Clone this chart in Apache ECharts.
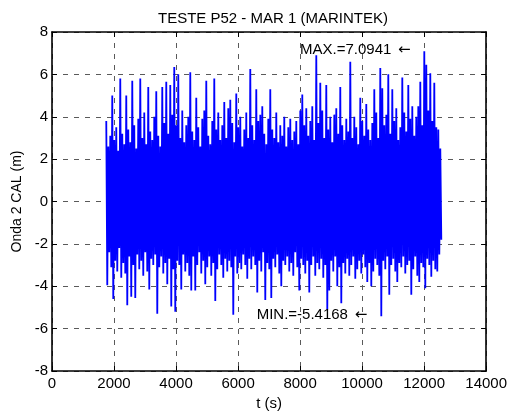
<!DOCTYPE html>
<html>
<head>
<meta charset="utf-8">
<script src="https://cdn.jsdelivr.net/npm/echarts@6/dist/echarts.min.js"></script>
<style>
  html, body { margin: 0; padding: 0; background: #ffffff; }
  #chart { width: 510px; height: 416px; }
</style>
</head>
<body>
<div id="chart"></div>
<script>
// Wave elevation record, probe "Onda 2 CAL", sea state 1 (MARINTEK basin test)
const T_START = 1750;   // time of the first crest (s)
const T_STEP = 64.5;    // spacing between successive crests (s)

// Crest elevations (m), one per wave
const crests = [
  3.8, 2.6, 3.1, 5.0, 2.9, 3.5, 2.4, 5.8, 3.2, 2.7,
  5.0, 3.4, 2.8, 5.7, 3.6, 2.5, 3.9, 5.8, 3.0, 4.2,
  2.7, 5.4, 3.3, 2.9, 4.0, 5.2, 3.1, 2.6, 5.4, 3.7,
  5.65, 3.2, 5.5, 4.1, 6.35, 3.6, 6.0, 3.0, 4.3, 2.8,
  3.6, 4.0, 6.1, 3.3, 2.9, 4.9, 3.5, 2.6, 3.9, 4.3,
  5.7, 3.1, 2.7, 3.8, 5.8, 3.4, 4.2, 2.9, 3.6, 4.7,
  3.0, 4.4, 4.8, 3.7, 2.8, 5.1, 3.5, 4.0, 2.6, 3.4,
  4.2, 3.0, 6.25, 3.6, 2.9, 5.3, 3.8, 4.1, 4.5, 3.2,
  2.7, 3.9, 5.3, 3.4, 3.0, 4.2, 2.8, 3.6, 3.1, 4.0,
  2.6, 3.5, 3.9, 2.9, 3.3, 3.8, 2.7, 4.3, 5.05, 3.6,
  4.4, 3.1, 3.8, 4.5, 2.9, 6.9, 3.7, 5.6, 4.3, 3.0,
  5.5, 3.4, 4.0, 2.8, 4.1, 4.4, 3.2, 5.4, 3.6, 2.9,
  3.9, 3.3, 6.6, 3.0, 4.0, 3.5, 2.7, 4.9, 3.8, 3.1,
  4.6, 3.4, 2.9, 3.7, 5.3, 4.2, 3.0, 6.3, 5.35, 3.6,
  4.1, 6.0, 3.2, 5.3, 3.8, 4.4, 2.9, 3.5, 5.85, 4.2,
  3.3, 5.5, 3.9, 4.5, 3.1, 4.0, 4.5, 5.65, 3.6, 7.0941,
  6.45, 4.3, 6.05, 3.8, 5.6, 3.5, 3.4, 2.5
];

// Trough elevations (m), one after each crest
const troughs = [
  -3.95, -2.4, -3.1, -4.6, -2.8, -3.3, -2.2, -3.6, -2.9, -3.4,
  -4.9, -2.6, -4.5, -3.0, -4.55, -2.5, -3.2, -2.8, -3.5, -2.4,
  -3.3, -4.15, -2.7, -3.0, -2.5, -5.3, -3.1, -2.6, -3.4, -2.9,
  -3.9, -2.7, -4.95, -3.2, -5.2, -2.8, -3.0, -4.15, -2.5, -3.3,
  -2.9, -3.5, -4.2, -2.6, -4.2, -3.0, -2.4, -3.4, -2.8, -3.9,
  -3.1, -2.6, -3.5, -2.9, -4.7, -3.2, -2.5, -3.0, -3.6, -2.7,
  -3.3, -2.8, -3.1, -5.35, -2.6, -3.4, -2.9, -3.2, -2.5, -3.0,
  -3.65, -2.7, -3.2, -2.6, -3.0, -4.3, -2.8, -3.3, -2.4, -4.65,
  -2.9, -3.2, -4.55, -2.7, -3.1, -2.5, -3.4, -4.0, -2.8, -3.0,
  -2.6, -3.3, -2.9, -3.5, -2.4, -3.1, -4.2, -2.7, -3.0, -3.4,
  -2.8, -4.3, -3.0, -2.6, -3.5, -2.9, -3.2, -2.7, -3.6, -3.0,
  -5.1, -4.2, -2.8, -3.3, -2.6, -4.0, -3.1, -4.8, -2.9, -3.4,
  -2.7, -3.5, -3.0, -2.6, -3.65, -3.2, -2.8, -3.4, -2.5, -3.1,
  -3.8, -2.9, -4.0, -3.3, -2.7, -3.0, -3.5, -5.4168, -2.8, -3.2,
  -2.6, -4.4, -3.0, -2.7, -3.3, -3.8, -2.9, -3.1, -2.6, -3.4,
  -3.0, -2.8, -4.4, -3.2, -2.6, -3.5, -3.8, -2.9, -3.1, -4.1,
  -2.7, -3.0, -3.55, -2.8, -3.2, -3.3, -2.5, -1.8
];

const X_MIN = 0, X_MAX = 14000, X_STEP = 2000;
const Y_MIN = -8, Y_MAX = 8, Y_STEP = 2;

const chartTitle = 'TESTE P52 - MAR 1 (MARINTEK)';
const xName = 't (s)';
const yName = 'Onda 2 CAL (m)';

// Interleave crests and troughs into one time series
const record = [];
for (let i = 0; i < crests.length; i++) {
  record.push([T_START + i * T_STEP, crests[i]]);
  record.push([T_START + (i + 0.5) * T_STEP, troughs[i]]);
}
const maxValue = Math.max(...crests);
const minValue = Math.min(...troughs);

const FONT = '"Liberation Sans", Arial, Helvetica, sans-serif';
const gridDash = { color: '#5a5a5a', width: 1, type: [5, 6] };
const frame = { show: true, onZero: false, lineStyle: { color: '#000000', width: 1.6 } };
const ticks = { show: true, inside: true, length: 5, lineStyle: { color: '#000000', width: 1 } };
const plain = v => String(v);

const chart = echarts.init(document.getElementById('chart'), null, { renderer: 'canvas' });

chart.setOption({
  animation: false,
  backgroundColor: '#ffffff',
  textStyle: { fontFamily: FONT },
  title: {
    text: chartTitle,
    left: 268, top: 6, textAlign: 'center',
    textStyle: { fontFamily: FONT, fontSize: 15, fontWeight: 'normal', color: '#000000' }
  },
  grid: { left: 52, right: 23, top: 32, bottom: 43, containLabel: false },
  xAxis: [
    {
      type: 'value', position: 'bottom', min: X_MIN, max: X_MAX, interval: X_STEP,
      name: xName, nameLocation: 'middle', nameGap: 25,
      nameTextStyle: { fontFamily: FONT, fontSize: 15, color: '#000000' },
      axisLine: frame, axisTick: ticks,
      axisLabel: { color: '#000000', fontSize: 15, fontFamily: FONT, margin: 5, formatter: plain },
      splitLine: { show: true, lineStyle: gridDash }
    },
    {
      type: 'value', position: 'top', min: X_MIN, max: X_MAX, interval: X_STEP,
      axisLine: frame, axisTick: ticks, axisLabel: { show: false }, splitLine: { show: false }
    }
  ],
  yAxis: [
    {
      type: 'value', position: 'left', min: Y_MIN, max: Y_MAX, interval: Y_STEP,
      name: yName, nameLocation: 'middle', nameGap: 23, nameRotate: 90,
      nameTextStyle: { fontFamily: FONT, fontSize: 14, color: '#000000' },
      axisLine: frame, axisTick: ticks,
      axisLabel: { color: '#000000', fontSize: 15, fontFamily: FONT, margin: 4, formatter: plain },
      splitLine: { show: true, lineStyle: gridDash }
    },
    {
      type: 'value', position: 'right', min: Y_MIN, max: Y_MAX, interval: Y_STEP,
      axisLine: frame, axisTick: ticks, axisLabel: { show: false }, splitLine: { show: false }
    }
  ],
  series: [
    {
      type: 'line', xAxisIndex: 0, yAxisIndex: 0,
      data: record, showSymbol: false, symbol: 'none',
      lineStyle: { color: '#0000ff', width: 1.8 },
      clip: true, silent: true
    }
  ]
});

// Extreme-value annotations, anchored in data coordinates
function note(prefix, value, at) {
  const p = chart.convertToPixel({ xAxisIndex: 0, yAxisIndex: 0 }, at);
  return {
    type: 'text', x: p[0], y: p[1] - 1, z: 100,
    style: {
      text: '{t|' + prefix + value.toFixed(4) + '}  {a|\u2190}',
      verticalAlign: 'middle',
      rich: {
        t: { font: '15px ' + FONT, fill: '#000000' },
        a: { font: '15px "DejaVu Sans", sans-serif', fill: '#000000' }
      }
    }
  };
}
chart.setOption({
  graphic: [
    note('MAX.=', maxValue, [8000, maxValue]),
    note('MIN.=', minValue, [6600, minValue])
  ]
});
</script>
</body>
</html>
